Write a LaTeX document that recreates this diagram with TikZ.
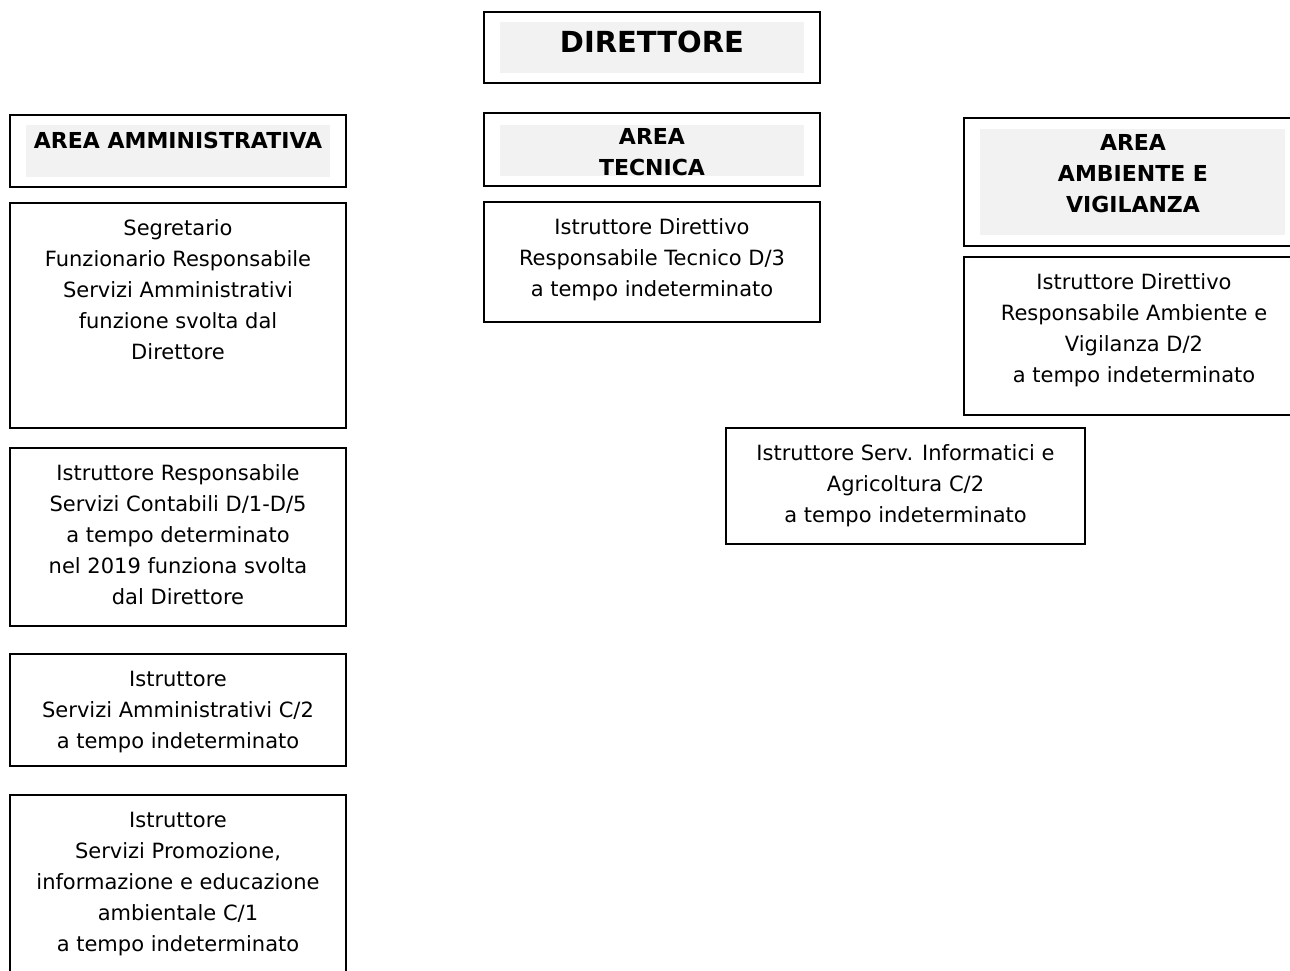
\documentclass[tikz,border=0pt]{standalone}
\usepackage{fontspec}
\setmainfont{DejaVu Sans}
\usetikzlibrary{positioning}
\definecolor{headgray}{RGB}{242,242,242}

\begin{document}
\begin{tikzpicture}[x=1pt, y=-1pt,
    every node/.style={inner sep=0pt, outer sep=0pt},
    frame/.style={draw, line width=1.6pt, anchor=north west, minimum width=336pt},
    shade/.style={fill=headgray, anchor=north west, minimum width=304pt},
    headtxt/.style={font=\fontsize{22}{31}\selectfont\bfseries, align=center},
    roletxt/.style={font=\fontsize{21}{31}\selectfont, align=center, anchor=north},
    ]
  \useasboundingbox (0,0) rectangle (1290,971);

  % direttore
  \node[frame, minimum height=71pt] (dir) at (484,12) {};
  \node[shade, minimum height=51pt] (dirshade) at (500,22) {};
  \node[headtxt, font=\fontsize{29}{31}\selectfont\bfseries] (dirtxt) at (652,42) {DIRETTORE};

  % aree
  \node[frame, minimum height=72pt] (amm) at (10,115) {};
  \node[shade, minimum height=52pt] (ammshade) at (26,125) {};
  \node[headtxt] (ammtxt) at (178,140) {AREA AMMINISTRATIVA};

  \node[frame, minimum height=73pt] (tec) at (484,113) {};
  \node[shade, minimum height=51pt] (tecshade) at (500,125) {};
  \node[headtxt] (tectxt) at (652,152) {AREA\\TECNICA};

  \node[frame, minimum width=340pt, minimum height=128pt] (amb) at (964,118) {};
  \node[shade, minimum width=305pt, minimum height=106pt] (ambshade) at (980,129) {};
  \node[headtxt] (ambtxt) at (1133,174) {AREA\\AMBIENTE E\\VIGILANZA};

  % area amministrativa
  \node[frame, minimum height=225pt] (segr) at (10,203) {};
  \node[roletxt] (segrtxt) at ([yshift=-17pt]segr.north)
      {Segretario\\Funzionario Responsabile\\Servizi Amministrativi\\funzione svolta dal\\Direttore};

  \node[frame, minimum height=178pt] (cont) at (10,448) {};
  \node[roletxt] (conttxt) at ([yshift=-17pt]cont.north)
      {Istruttore Responsabile\\Servizi Contabili D/1-D/5\\a tempo determinato\\nel 2019 funziona svolta\\dal Direttore};

  \node[frame, minimum height=112pt] (servamm) at (10,654) {};
  \node[roletxt] (servammtxt) at ([yshift=-17pt]servamm.north)
      {Istruttore\\Servizi Amministrativi C/2\\a tempo indeterminato};

  \node[frame, minimum height=200pt] (promo) at (10,795) {};
  \node[roletxt] (promotxt) at ([yshift=-17pt]promo.north)
      {Istruttore\\Servizi Promozione,\\informazione e educazione\\ambientale C/1\\a tempo indeterminato};

  % area tecnica
  \node[frame, minimum height=120pt] (tecresp) at (484,202) {};
  \node[roletxt] (tecresptxt) at ([yshift=-17pt]tecresp.north)
      {Istruttore Direttivo\\Responsabile Tecnico D/3\\a tempo indeterminato};

  \node[frame, minimum width=359pt, minimum height=116pt] (inform) at (726,428) {};
  \node[roletxt] (informtxt) at ([yshift=-17pt]inform.north)
      {Istruttore Serv. Informatici e\\Agricoltura C/2\\a tempo indeterminato};

  % area ambiente e vigilanza
  \node[frame, minimum width=340pt, minimum height=158pt] (ambresp) at (964,257) {};
  \node[roletxt] (ambresptxt) at ([yshift=-17pt]ambresp.north)
      {Istruttore Direttivo\\Responsabile Ambiente e\\Vigilanza D/2\\a tempo indeterminato};

\end{tikzpicture}
\end{document}
